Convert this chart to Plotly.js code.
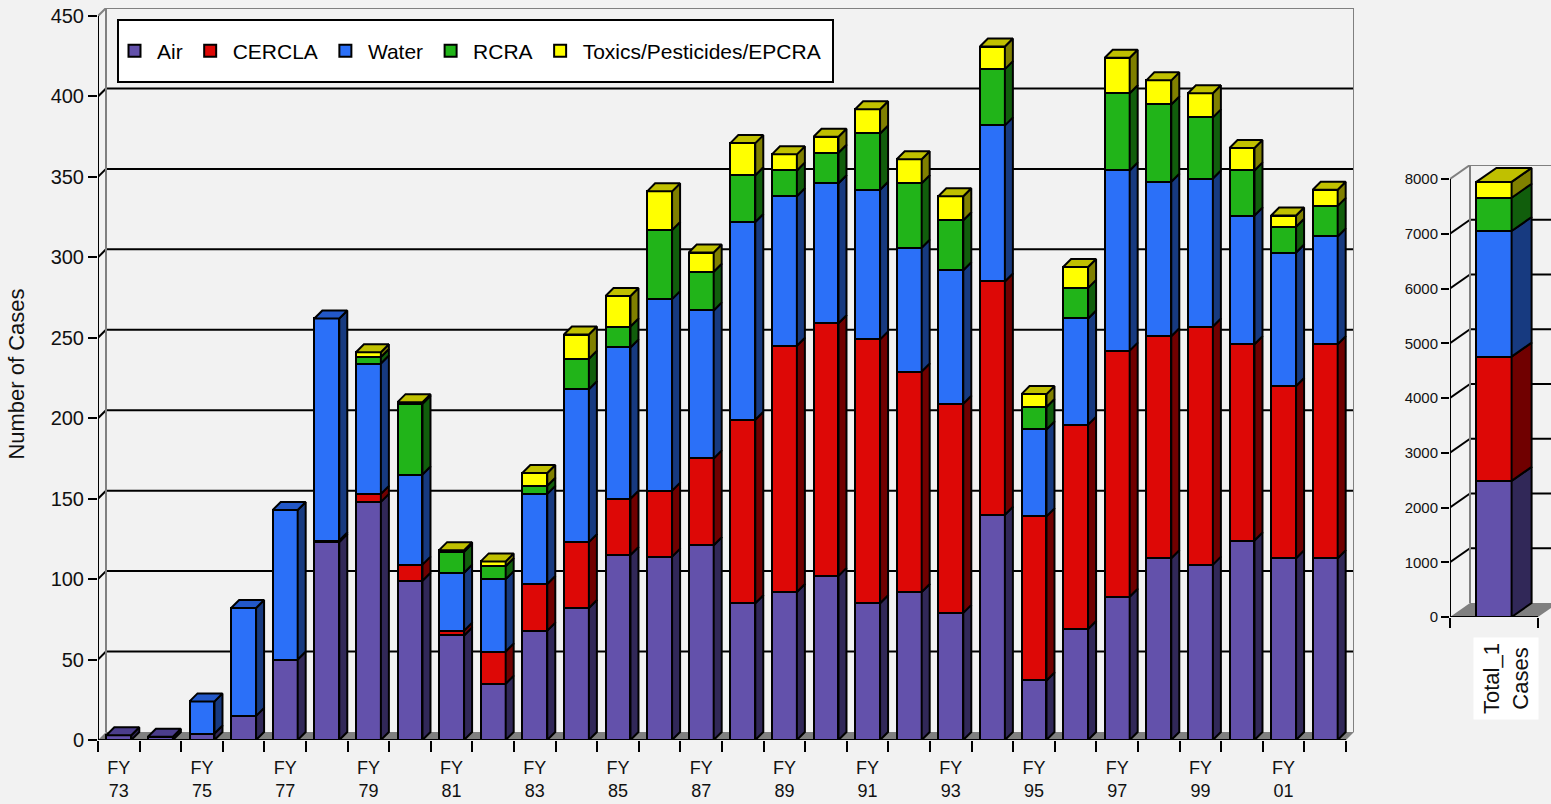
<!DOCTYPE html>
<html><head><meta charset="utf-8">
<script src="https://cdn.plot.ly/plotly-3.0.1.min.js"></script>
<style>html,body{margin:0;padding:0;background:#f2f2f2;}#chart{width:1551px;height:804px;}</style>
</head><body><div id="chart"></div>
<script>
// ---------------- DATA ----------------
const years = ['73','74','75','76','77','78','79','80','81','82','83','84','85','86','87','88','89','90','91','92','93','94','95','96','97','98','99','00','01','02'];
const air    = [3,2,4,15,50,123,148,99,65,35,68,82,115,114,121,85,92,102,85,92,79,140,37,69,89,113,109,124,113,113];
const cercla = [0,0,0,0,0,1,5,10,3,20,29,41,35,41,54,114,153,157,164,137,130,145,102,127,153,138,148,122,107,133];
const water  = [0,0,20,67,93,138,81,56,36,45,56,95,94,119,92,123,93,87,93,77,83,97,54,66,112,96,92,80,83,67];
const rcra   = [0,0,0,0,0,0,4,44,13,8,5,19,13,43,24,29,16,19,35,40,31,35,14,19,48,48,38,28,16,19];
const toxics = [0,0,0,0,0,0,3,1,1,3,8,15,19,24,12,20,10,10,15,15,15,14,8,13,22,15,15,14,7,10];
const seriesNames = ['Air','CERCLA','Water','RCRA','Toxics/Pesticides/EPCRA'];
const mainTicks = [0,50,100,150,200,250,300,350,400,450];
const totalTicks = [0,1000,2000,3000,4000,5000,6000,7000,8000];
const totalCategory = 'Total_1<br>Cases';
const yTitle = 'Number of Cases';

// ---------------- STYLE ----------------
const frontColors = ['#6351AB','#DD0806','#2B70F8','#21B419','#FFFF00'];
const sideColors  = ['#312858','#700000','#173A80','#115E0C','#808000'];
const topColors   = ['#4B3D8C','#A00000','#2358C8','#189010','#C0C000'];
const W = 1551, H = 804;
const FONT = 'Liberation Sans, Arial, sans-serif';

const allSeries = [air, cercla, water, rcra, toxics];
const nYears = years.length;
const mainMax = mainTicks[mainTicks.length-1];
const totMax = totalTicks[totalTicks.length-1];

// main geometry (pixels)
const M = {left:98, floor:740, topTick:16, cat:41.6, depth:8};
const mUnitY = (M.floor - M.topTick)/mainMax;
const mdx = M.depth/M.cat, mdy = M.depth/mUnitY;
const mXRange = [-0.5, nYears-0.5+mdx];
const mYRange = [0, mainMax+mdy];
const mXDomain = [M.left/W, (M.left+nYears*M.cat+M.depth)/W];
const mYDomain = [1-M.floor/H, 1-(M.topTick-M.depth)/H];

// side (total) geometry
const S = {left:1450, floor:617, topTick:179, cat:88, dx:20, dy:14};
const sUnitY = (S.floor - S.topTick)/totMax;
const sdx = S.dx/S.cat, sdy = S.dy/sUnitY;
const sXRange = [-0.5, -0.5+(W-S.left)/S.cat];
const sYRange = [0, totMax+sdy];
const sXDomain = [S.left/W, 1];
const sYDomain = [1-S.floor/H, 1-(S.topTick-S.dy)/H];

const totals = allSeries.map(s => [s.reduce((a,b)=>a+b,0)]);

function build3D(xs, seriesVals, xa, ya, barW, dx, dy, legend){
  const bars = [], polys = [];
  const n = xs.length;
  const base = new Array(n).fill(0);
  const topIdx = new Array(n).fill(-1);
  const sides = seriesVals.map(()=>({x:[],y:[]}));
  const tops = seriesVals.map(()=>({x:[],y:[]}));
  seriesVals.forEach((vals,k)=>{
    bars.push({type:'bar', x:xs, y:vals, xaxis:xa, yaxis:ya, width:barW, name:seriesNames[k],
      showlegend:legend, legendgroup:seriesNames[k], hoverinfo:'skip',
      marker:{color:frontColors[k], line:{color:'#000', width:2}}});
    for(let i=0;i<n;i++){
      const v = vals[i]; if(!(v>0)) continue;
      const r = xs[i]+barW/2, b = base[i], t = b+v;
      sides[k].x.push(r, r+dx, r+dx, r, r, null);
      sides[k].y.push(b, b+dy, t+dy, t, b, null);
      base[i] = t; topIdx[i] = k;
    }
  });
  for(let i=0;i<n;i++){
    const k = topIdx[i]; if(k<0) continue;
    const l = xs[i]-barW/2, r = xs[i]+barW/2, t = base[i];
    tops[k].x.push(l, l+dx, r+dx, r, l, null);
    tops[k].y.push(t, t+dy, t+dy, t, t, null);
  }
  seriesVals.forEach((_,k)=>{
    [[sides[k], sideColors[k]], [tops[k], topColors[k]]].forEach(([p,c])=>{
      if(!p.x.length) return;
      polys.push({type:'scatter', mode:'lines', x:p.x, y:p.y, xaxis:xa, yaxis:ya, fill:'toself',
        fillcolor:c, line:{color:'#000', width:2}, hoverinfo:'skip', showlegend:false});
    });
  });
  return bars.concat(polys);
}

const xsMain = years.map((_,i)=>i);
const traces = build3D(xsMain, allSeries, 'x', 'y', 0.6, mdx, mdy, true)
  .concat(build3D([0], totals, 'x2', 'y2', 0.4, sdx, sdy, false));

// ---------------- SHAPES (frame, floor, back-wall grid) ----------------
const shapes = [];
function wallFrame(xr, yr, x0, x1, ymax, dx, dy, ticks, openRight){
  shapes.push({type:'path', xref:xr, yref:yr, layer:'below',
    path:`M${x0},0 L${x0+dx},${dy} L${x1+dx},${dy} L${x1},0 Z`, fillcolor:'#808080', line:{width:0}});
  const gx1 = openRight ? x1+2*dx : x1+dx;
  ticks.forEach(v=>{
    if(v===0 || v===ymax) return;
    shapes.push({type:'line', xref:xr, yref:yr, layer:'below', x0:x0+dx, x1:gx1, y0:v+dy, y1:v+dy, line:{color:'#000', width:2}});
    shapes.push({type:'line', xref:xr, yref:yr, layer:'below', x0:x0, x1:x0+dx, y0:v, y1:v+dy, line:{color:'#000', width:2}});
  });
  shapes.push({type:'path', xref:xr, yref:yr, layer:'below',
    path: openRight ? `M${x0+dx},${dy} L${x0+dx},${ymax+dy} L${gx1},${ymax+dy}`
                    : `M${x0+dx},${dy} L${x0+dx},${ymax+dy} L${gx1},${ymax+dy} L${gx1},${dy}`,
    line:{color:'#808080', width:2}});
  shapes.push({type:'line', xref:xr, yref:yr, layer:'below', x0:x0, x1:x0+dx, y0:ymax, y1:ymax+dy, line:{color:'#808080', width:2}});
  shapes.push({type:'line', xref:xr, yref:yr, layer:'above', x0:x0, x1:x0, y0:0, y1:ymax, line:{color:'#000', width:2}});
  shapes.push({type:'line', xref:xr, yref:yr, layer:'above', x0:x0, x1:x1, y0:0, y1:0, line:{color:'#000', width:2}});
}
wallFrame('x','y', -0.5, nYears-0.5, mainMax, mdx, mdy, mainTicks, false);
wallFrame('x2','y2', -0.5, 0.5, totMax, sdx, sdy, totalTicks, true);

// legend box
shapes.push({type:'rect', xref:'paper', yref:'paper', layer:'above',
  x0:118/W, x1:833/W, y0:1-82/H, y1:1-20/H, fillcolor:'#FFFFFF', line:{color:'#000', width:2}});

const boundaries = years.map((_,i)=>i-0.5).concat([nYears-0.5]);
const labelIdx = years.map((_,i)=>i).filter(i=>i%2===0);

const layout = {
  width:W, height:H, autosize:false,
  margin:{l:0, r:0, t:0, b:0, pad:0},
  paper_bgcolor:'#F2F2F2', plot_bgcolor:'rgba(0,0,0,0)',
  barmode:'stack', bargap:0, hovermode:false,
  font:{family:FONT, color:'#111'},
  showlegend:true,
  legend:{orientation:'h', x:112/W, y:1-51/H, xanchor:'left', yanchor:'middle', itemwidth:35,
    bgcolor:'rgba(0,0,0,0)', borderwidth:0, traceorder:'normal',
    font:{family:FONT, size:21, color:'#000'}},
  xaxis:{domain:mXDomain, range:mXRange, type:'linear', anchor:'y', fixedrange:true,
    tickmode:'array', tickvals:labelIdx, ticktext:labelIdx.map(i=>'FY<br>'+years[i]),
    ticks:'outside', ticklen:11, tickcolor:'rgba(0,0,0,0)',
    tickfont:{family:FONT, size:18, color:'#111'},
    minor:{tickmode:'array', tickvals:boundaries, ticks:'outside', ticklen:11, tickwidth:2, tickcolor:'#000', showgrid:false},
    showgrid:false, zeroline:false, showline:false},
  yaxis:{domain:mYDomain, range:mYRange, anchor:'x', fixedrange:true,
    tickvals:mainTicks, ticks:'outside', ticklen:9, tickwidth:2, tickcolor:'#000',
    tickfont:{family:FONT, size:20, color:'#111'},
    showgrid:false, zeroline:false, showline:false,
    title:{text:yTitle, font:{family:'Liberation Sans Narrow, Liberation Sans, Arial', size:22, color:'#111'}, standoff:19}},
  xaxis2:{domain:sXDomain, range:sXRange, anchor:'y2', type:'linear', fixedrange:true,
    tickvals:[-0.5,0.5], ticktext:['',''], ticks:'outside', ticklen:10, tickwidth:2, tickcolor:'#000',
    showgrid:false, zeroline:false, showline:false},
  yaxis2:{domain:sYDomain, range:sYRange, anchor:'x2', fixedrange:true,
    tickvals:totalTicks, ticks:'outside', ticklen:8, tickwidth:2, tickcolor:'#000',
    tickfont:{family:FONT, size:15, color:'#111'},
    showgrid:false, zeroline:false, showline:false},
  annotations:[{xref:'x2', yref:'paper', x:0, xshift:12, y:1-679/H, text:totalCategory, showarrow:false,
    textangle:-90, bgcolor:'#FFFFFF', borderpad:5, font:{family:FONT, size:22, color:'#111'},
    xanchor:'center', yanchor:'middle'}],
  shapes:shapes
};

Plotly.newPlot('chart', traces, layout, {staticPlot:true, displayModeBar:false});
</script></body></html>
